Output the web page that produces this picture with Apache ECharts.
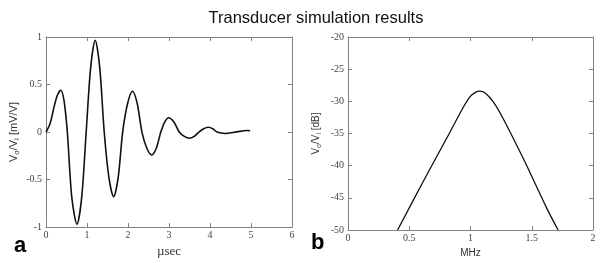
<!DOCTYPE html>
<html>
<head>
<meta charset="utf-8">
<script src="https://cdn.jsdelivr.net/npm/echarts@6/dist/echarts.min.js"></script>
<style>
  html, body { margin: 0; padding: 0; background: #fff; }
  #main { width: 604px; height: 263px; }
</style>
</head>
<body>
<div id="main"></div>
<script>
// panel a: impulse response (time in usec, mV/V)
var timeUs = [0, 0.1, 0.2, 0.28, 0.36, 0.44, 0.52, 0.63, 0.755, 0.87, 0.98, 1.09, 1.2, 1.31, 1.42, 1.535, 1.65, 1.76, 1.87,
  1.99, 2.11, 2.225, 2.34, 2.46, 2.58, 2.69, 2.8, 2.895, 2.99, 3.12, 3.25, 3.375, 3.5, 3.615, 3.73, 3.845, 3.96, 4.065, 4.17,
  4.37, 4.65, 4.9, 4.98];
var voltage = [0, 0.09, 0.27, 0.39, 0.44, 0.33, 0, -0.69, -0.97, -0.69, 0, 0.68, 0.966, 0.68, 0, -0.48, -0.68, -0.48, 0,
  0.30, 0.43, 0.30, 0, -0.17, -0.24, -0.17, 0, 0.105, 0.15, 0.105, 0, -0.046, -0.065, -0.046, 0, 0.035, 0.05, 0.035, 0,
  -0.015, 0.002, 0.016, 0.014];
// panel b: frequency response (MHz, dB)
var freqMHz = [0.405, 0.613, 0.832, 0.93, 0.995, 1.04, 1.077, 1.12, 1.186, 1.267, 1.431, 1.622, 1.715];
var gainDb = [-50, -42.5, -34.8, -31.3, -29.3, -28.6, -28.4, -28.7, -30.1, -32.7, -38.9, -46.6, -50];

var titleText = 'Transducer simulation results';
var panelLabels = ['a', 'b'];

function pairs(xs, ys) {
  return xs.map(function (x, i) { return [x, ys[i]]; });
}

var boxColor = '#808080';
var tickFont = { fontFamily: 'Liberation Serif', fontSize: 10, color: '#444' };

function baseAxis(extra) {
  var ax = {
    type: 'value',
    axisLine: { show: true, onZero: false, lineStyle: { color: boxColor, width: 1 } },
    axisTick: { show: true, inside: true, length: 4, lineStyle: { color: boxColor } },
    splitLine: { show: false },
    axisLabel: Object.assign({ show: true }, tickFont)
  };
  return Object.assign(ax, extra);
}

var yName = function (unit) {
  return 'V{s|o}/V{s|i} [' + unit + ']';
};

var chart = echarts.init(document.getElementById('main'), null, { renderer: 'canvas' });
chart.setOption({
  animation: false,
  title: {
    text: titleText,
    left: 311,
    textAlign: 'center',
    top: 5,
    textStyle: { fontFamily: 'Liberation Sans', fontSize: 16.5, fontWeight: 'normal', color: '#111' }
  },
  grid: [
    { left: 46, top: 37, width: 246, height: 193 },
    { left: 348, top: 37, width: 245, height: 193 }
  ],
  xAxis: [
    baseAxis({ gridIndex: 0, min: 0, max: 6, interval: 1, position: 'bottom',
      axisLabel: Object.assign({ margin: 3 }, tickFont),
      name: '\u00b5sec', nameLocation: 'middle', nameGap: 12,
      nameTextStyle: { fontFamily: 'Liberation Serif', fontSize: 13, color: '#333' } }),
    baseAxis({ gridIndex: 0, min: 0, max: 6, interval: 1, position: 'top', axisLabel: { show: false } }),
    baseAxis({ gridIndex: 1, min: 0, max: 2, interval: 0.5, position: 'bottom',
      axisLabel: Object.assign({ margin: 3 }, tickFont),
      name: 'MHz', nameLocation: 'middle', nameGap: 12,
      nameTextStyle: { fontFamily: 'Liberation Sans', fontSize: 10, color: '#333' } }),
    baseAxis({ gridIndex: 1, min: 0, max: 2, interval: 0.5, position: 'top', axisLabel: { show: false } })
  ],
  yAxis: [
    baseAxis({ gridIndex: 0, min: -1, max: 1, interval: 0.5, position: 'left',
      axisLabel: Object.assign({ margin: 4 }, tickFont),
      name: yName('mV/V'), nameLocation: 'middle', nameRotate: 90, nameGap: 25,
      nameTextStyle: { fontFamily: 'Liberation Sans', fontSize: 11, color: '#333', lineHeight: 15,
        rich: { s: { fontFamily: 'Liberation Sans', fontSize: 8, lineHeight: 8, verticalAlign: 'bottom', color: '#333' } } } }),
    baseAxis({ gridIndex: 0, min: -1, max: 1, interval: 0.5, position: 'right', axisLabel: { show: false } }),
    baseAxis({ gridIndex: 1, min: -50, max: -20, interval: 5, position: 'left',
      axisLabel: Object.assign({ margin: 4 }, tickFont),
      name: yName('dB'), nameLocation: 'middle', nameRotate: 90, nameGap: 25,
      nameTextStyle: { fontFamily: 'Liberation Sans', fontSize: 10, color: '#333', lineHeight: 14,
        rich: { s: { fontFamily: 'Liberation Sans', fontSize: 7, lineHeight: 7, verticalAlign: 'bottom', color: '#333' } } } }),
    baseAxis({ gridIndex: 1, min: -50, max: -20, interval: 5, position: 'right', axisLabel: { show: false } })
  ],
  series: [
    {
      type: 'line', xAxisIndex: 0, yAxisIndex: 0,
      data: pairs(timeUs, voltage),
      smooth: 0.3, showSymbol: false,
      lineStyle: { color: '#111', width: 1.6 }
    },
    {
      type: 'line', xAxisIndex: 2, yAxisIndex: 2,
      data: pairs(freqMHz, gainDb),
      smooth: 0.3, showSymbol: false,
      lineStyle: { color: '#111', width: 1.3 }
    }
  ],
  graphic: [
    { type: 'text', left: 14, top: 235, style: { text: panelLabels[0], font: 'bold 22px "Liberation Sans"', fill: '#000' } },
    { type: 'text', left: 311, top: 232, style: { text: panelLabels[1], font: 'bold 22px "Liberation Sans"', fill: '#000' } }
  ]
});
</script>
</body>
</html>
